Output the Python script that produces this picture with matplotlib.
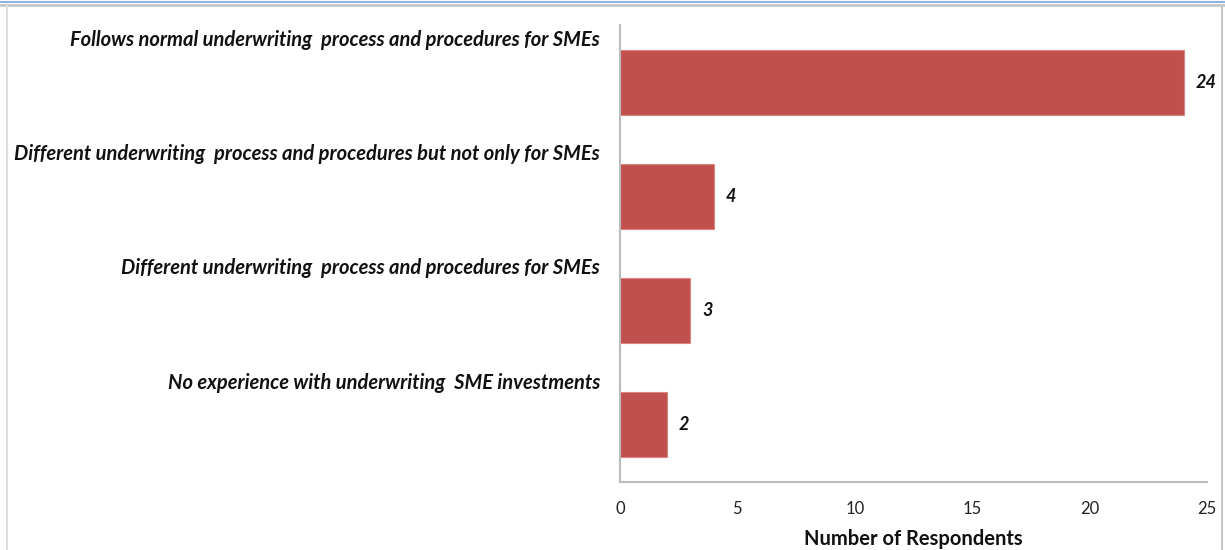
import matplotlib.pyplot as plt
from matplotlib.lines import Line2D
import matplotlib.transforms as mtransforms

categories = ["Follows normal underwriting  process and procedures for SMEs",
              "Different underwriting  process and procedures but not only for SMEs",
              "Different underwriting  process and procedures for SMEs",
              "No experience with underwriting  SME investments"]
values = [24, 4, 3, 2]
xticks = [0, 5, 10, 15, 20, 25]

plt.rcParams['font.family'] = ['Lato', 'DejaVu Sans']

fig = plt.figure(figsize=(12.25, 5.5), dpi=100)
ax = fig.add_axes([620/1225, 1-482/550, 587/1225, 457/550])

ypos = list(range(len(values)))
ax.barh(ypos, values, height=0.57, color='#C0504D', edgecolor='#D88583', linewidth=0.8)
ax.set_ylim(3.5, -0.5)
ax.set_xlim(0, 25)
ax.set_xticks(xticks)
ax.set_xticklabels([str(t) for t in xticks], fontsize=12, color='#222222')
ax.tick_params(axis='x', length=0, pad=14)
ax.set_yticks([])
for s in ['top', 'right']:
    ax.spines[s].set_visible(False)
for s in ['left', 'bottom']:
    ax.spines[s].set_color('#BBBBBB')
    ax.spines[s].set_linewidth(1.5)

ax.set_xlabel("Number of Respondents", fontsize=14.5, fontweight='bold', labelpad=8, color='#111111')

# category labels sit above each bar, right aligned left of the axis
lab_tr = ax.get_yaxis_transform() + mtransforms.ScaledTranslation(-20/100, 0, fig.dpi_scale_trans)
for i, c in enumerate(categories):
    ax.text(0, i - 0.37, c, transform=lab_tr, ha='right', va='center',
            fontsize=14.5, fontweight='bold', fontstyle='italic', color='#111111')

val_tr = ax.transData + mtransforms.ScaledTranslation(12/100, 0, fig.dpi_scale_trans)
for i, v in enumerate(values):
    ax.text(v, i, str(v), transform=val_tr, ha='left', va='center',
            fontsize=13, fontweight='bold', fontstyle='italic', color='#111111')

# frame of the original screenshot
fig.add_artist(Line2D([0, 1], [1-2/550, 1-2/550], color='#8DB3E2', lw=1.5))
fig.add_artist(Line2D([0, 1], [1-5/550, 1-5/550], color='#C8C8C8', lw=2))
fig.add_artist(Line2D([7/1225, 7/1225], [0, 1-6/550], color='#DDDDDD', lw=1.5))
fig.add_artist(Line2D([1222/1225, 1222/1225], [0, 1-6/550], color='#C8C8C8', lw=1.5))

fig.savefig('out.png', dpi=100)
